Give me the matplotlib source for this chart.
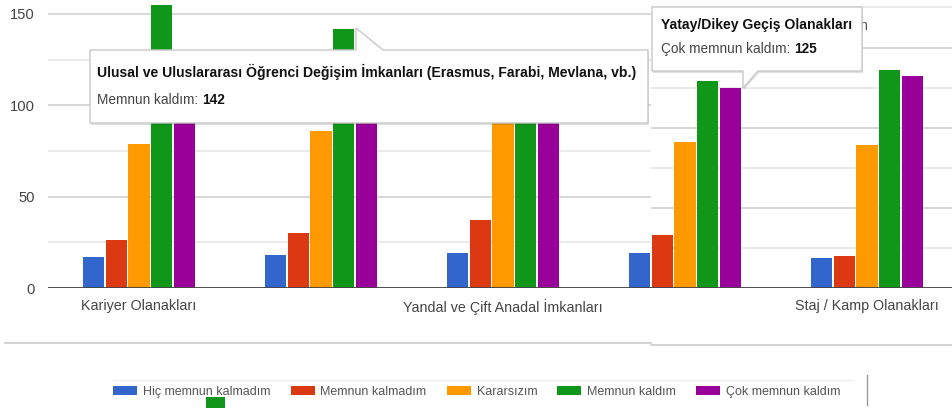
import matplotlib
matplotlib.use("Agg")
import numpy as np
import matplotlib.pyplot as plt
import matplotlib.font_manager as fm
from matplotlib.patches import Polygon, Rectangle
from matplotlib.lines import Line2D

# data
categories = [
    "Kariyer Olanakları",
    "Ulusal ve Uluslararası Öğrenci Değişim İmkanları (Erasmus, Farabi, Mevlana, vb.)",
    "Yandal ve Çift Anadal İmkanları",
    "Yatay/Dikey Geçiş Olanakları",
    "Staj / Kamp Olanakları",
]
series_names = ["Hiç memnun kalmadım", "Memnun kalmadım", "Kararsızım",
                "Memnun kaldım", "Çok memnun kaldım"]
hic_memnun_kalmadim = [17, 18, 19, 19, 19]
memnun_kalmadim = [26, 30, 37, 33, 20]
kararsizim = [79, 86, 98, 91, 89]
memnun_kaldim = [155, 142, 128, 129, 136]
cok_memnun_kaldim = [118, 112, 120, 125, 132]
series = [hic_memnun_kalmadim, memnun_kalmadim, kararsizim,
          memnun_kaldim, cok_memnun_kaldim]
colors = ["#3366cc", "#dc3912", "#ff9900", "#109618", "#990099"]

# label only every other category, like the original
shown_labels = [c if i % 2 == 0 else "" for i, c in enumerate(categories)]

# fonts
names = {f.name for f in fm.fontManager.ttflist}
if "Liberation Sans Narrow" in names:
    NARROW, K = "Liberation Sans Narrow", 1.0
else:
    NARROW, K = "Liberation Sans", 0.82

W, H = 953, 408


def fx(x):
    return x / W


def fy(y):
    return 1 - y / H


fig = plt.figure(figsize=(W / 100, H / 100), dpi=100)
fig.patch.set_facecolor("white")

# the screenshot is two panes with different vertical scales
x_split = -0.5 + (651 - 48) / 182
axA = fig.add_axes([fx(48), fy(288), (651 - 48) / W, 288 / H])
axB = fig.add_axes([fx(651), fy(288), (958 - 651) / W, 288 / H])

x = np.arange(len(categories))
step, width = 0.125, 0.116
handles = []
for ax, px_per_unit, xlim in [(axA, 1.827, (-0.5, x_split)),
                              (axB, 1.603, (x_split, 4.5))]:
    hs = []
    for j, (vals, c) in enumerate(zip(series, colors)):
        hs.append(ax.bar(x + (j - 2) * step, vals, width, color=c,
                         linewidth=0, zorder=2))
    handles = handles or hs
    ax.set_yticks([0, 50, 100, 150])
    ax.set_yticks([25, 75, 125, 175], minor=True)
    ax.set_xticks(x)
    ax.set_xticklabels(shown_labels, fontsize=12.5 * K, family=NARROW,
                       color="#444444")
    ax.set_xlim(*xlim)
    ax.set_ylim(0, 288 / px_per_unit)
    ax.grid(True, which="major", axis="y", color="#d4d4d4", lw=1.3, zorder=0)
    ax.grid(True, which="minor", axis="y", color="#e8e8e8", lw=1.3, zorder=0)
    ax.axhline(0, color="#444444", lw=1.3, zorder=3)
    for s in ax.spines.values():
        s.set_visible(False)
    ax.tick_params(axis="both", which="both", length=0)
    ax.tick_params(axis="x", pad=8)
    ax.set_axisbelow(True)

axA.set_yticklabels([str(v) for v in [0, 50, 100, 150]], fontsize=13 * K,
                    family=NARROW, color="#444444")
axA.tick_params(axis="y", pad=9.5)
axB.set_yticklabels([])

# pane borders
fig.add_artist(Line2D([fx(5), fx(651)], [fy(343), fy(343)], color="#cccccc", lw=1.2))
fig.add_artist(Line2D([fx(651), fx(953)], [fy(345), fy(345)], color="#cccccc", lw=1.2))

# stray text peeking out from under the right tooltip
fig.text(fx(859), fy(26), "n", fontsize=12.5 * K, family=NARROW,
         color="#555555", va="center", zorder=2)


def tooltip(verts, title, label, value, tx, ty1, ty2):
    shadow = Polygon([(fx(a + 1), fy(b + 2)) for a, b in verts], closed=True,
                     transform=fig.transFigure, facecolor="#000000", alpha=0.12,
                     edgecolor="none", zorder=4)
    box = Polygon([(fx(a), fy(b)) for a, b in verts], closed=True,
                  transform=fig.transFigure, facecolor="white",
                  edgecolor="#c8c8c8", lw=1, zorder=5)
    fig.add_artist(shadow)
    fig.add_artist(box)
    fig.text(fx(tx), fy(ty1), title, fontsize=12.3 * K, family=NARROW,
             weight="bold", color="#111111", va="center", zorder=6)
    t = fig.text(fx(tx), fy(ty2), label + ": ", fontsize=12 * K, family=NARROW,
                 color="#444444", va="center", zorder=6)
    bb = t.get_window_extent(renderer=fig.canvas.get_renderer())
    fig.text(bb.x1 / W, fy(ty2), str(value), fontsize=12 * K, family=NARROW,
             weight="bold", color="#111111", va="center", zorder=6)


tooltip([(90, 50), (356, 50), (356, 28), (383, 50), (648, 50), (648, 123), (90, 123)],
        categories[1], series_names[3], memnun_kaldim[1], 97, 72, 100)
tooltip([(652, 7), (862, 7), (862, 71), (758, 71), (743, 88), (743, 71), (652, 71)],
        categories[3], series_names[4], cok_memnun_kaldim[3], 661, 25, 49)

# legend strip
fig.add_artist(Line2D([fx(113), fx(853)], [fy(380), fy(380)], color="#eeeeee", lw=1))
fig.add_artist(Line2D([fx(867), fx(867)], [fy(375), fy(405)], color="#999999", lw=1))
fig.legend(handles, series_names, loc="center left",
           bbox_to_anchor=(fx(113), fy(392)), ncol=5, frameon=False,
           prop={"family": "Liberation Sans", "size": 9}, labelcolor="#555555",
           handlelength=1.92, handleheight=0.72, handletextpad=0.48,
           columnspacing=1.6, borderpad=0, borderaxespad=0)
fig.add_artist(Rectangle((fx(206), fy(408)), 19 / W, 11 / H,
                         transform=fig.transFigure, facecolor=colors[3],
                         edgecolor="none", zorder=7))

fig.savefig("out.png", dpi=100)
